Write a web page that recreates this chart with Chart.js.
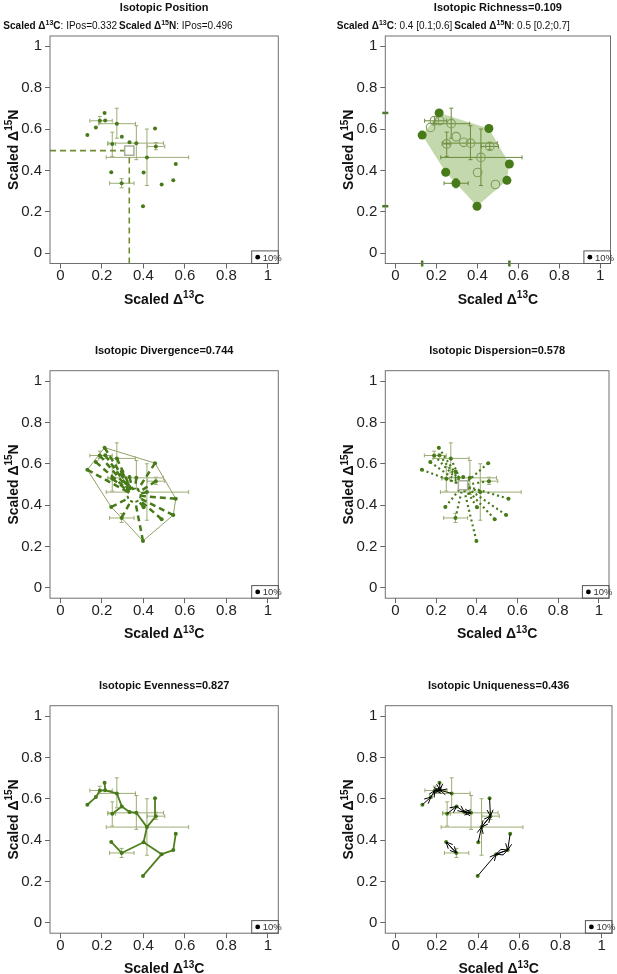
<!DOCTYPE html>
<html>
<head>
<meta charset="utf-8">
<script src="https://cdn.jsdelivr.net/npm/chart.js@4.4.1/dist/chart.umd.min.js"></script>
<style>
    body { margin: 0; background: #fff; width: 617px; height: 974px; overflow: hidden; position: relative; }
    canvas { position: absolute; }
</style>
</head>
<body>
<canvas id="p1"></canvas>
<canvas id="p2"></canvas>
<canvas id="p3"></canvas>
<canvas id="p4"></canvas>
<canvas id="p5"></canvas>
<canvas id="p6"></canvas>
<script>
// Valores escalados de cada punto (Δ13C, Δ15N)
const ptX = [0.130, 0.213, 0.456, 0.556, 0.544, 0.398, 0.295, 0.245, 0.171, 0.190,
             0.216, 0.272, 0.296, 0.333, 0.366, 0.250, 0.460, 0.417, 0.401, 0.488];
const ptY = [0.571, 0.678, 0.603, 0.431, 0.352, 0.227, 0.338, 0.391, 0.608, 0.640,
             0.641, 0.626, 0.563, 0.536, 0.532, 0.528, 0.516, 0.463, 0.390, 0.332];

// Vértices del polígono convexo (en orden)
const hullIdx = [0, 1, 2, 3, 4, 5, 6, 7];
const innerIdx = [8, 9, 10, 11, 12, 13, 14, 15, 16, 17, 18, 19];

// Barras de error
const errIdx = [9, 11, 15, 14, 16, 17, 6];
const errXlo = [0.142, 0.185, 0.228, 0.229, 0.419, 0.221, 0.237];
const errXhi = [0.250, 0.362, 0.266, 0.497, 0.503, 0.618, 0.355];
const errYlo = [0.626, 0.556, 0.468, 0.452, 0.500, 0.327, 0.316];
const errYhi = [0.661, 0.701, 0.585, 0.616, 0.535, 0.600, 0.360];

// Centro (IPos) y centro de gravedad del polígono
const posX = 0.332, posY = 0.496;
const gravX = 0.355, gravY = 0.447;

// Árbol de expansión mínima (Evenness)
const mstFrom = [0, 8, 9, 10, 10, 11, 12, 12, 13, 14, 17, 16, 17, 18, 18, 6, 19, 4, 19];
const mstTo   = [8, 9, 10, 1, 11, 12, 15, 13, 14, 17, 16, 2, 18, 19, 6, 7, 4, 3, 5];

// Vecino más cercano (Uniqueness)
const nnIdx = [8, 10, 16, 4, 19, 19, 7, 6, 9, 10, 9, 10, 13, 14, 13, 12, 17, 16, 17, 4];

const tickVals = [0, 0.2, 0.4, 0.6, 0.8, 1];
const AX_MIN = -0.05, AX_MAX = 1.05;

const titles = ['Isotopic Position', 'Isotopic Richness=0.109', 'Isotopic Divergence=0.744',
                'Isotopic Dispersion=0.578', 'Isotopic Evenness=0.827', 'Isotopic Uniqueness=0.436'];

const FAM = "'Liberation Sans', Arial, Helvetica, sans-serif";
Chart.defaults.font.family = FAM;

const DARK = '#477a19';
const FILLC = '#c3d8ad';
const BARC = '#9cad74';
const BARC2 = '#6b8a3a';
const OPENC = '#7f9c58';
const LINEC = '#6e8d2e';

const xLab = [{ t: 'Scaled Δ', b: 1 }, { t: '13', b: 1, sup: 1 }, { t: 'C', b: 1 }];
const yLab = [{ t: 'Scaled Δ', b: 1 }, { t: '15', b: 1, sup: 1 }, { t: 'N', b: 1 }];

const COLS = [{ left: 0, w: 308, pl: 50 }, { left: 308, w: 309, pl: 77.3 }];
const ROWS = [{ top: 0, h: 322, pt: 36, tOff: 28 },
              { top: 325, h: 325, pt: 45.7, tOff: 20 },
              { top: 650, h: 324, pt: 55.7, tOff: 20 }];
const PW = 228.3, PH = 227.5;

function fontFor(s, size) {
    const sz = s.sup ? Math.round(size * 0.7) : size;
    return (s.b ? 'bold ' : '') + sz + 'px ' + FAM;
}

// Texto con superíndices
function drawRich(ctx, segs, x, y, size, align) {
    let w = 0;
    segs.forEach(s => { ctx.font = fontFor(s, size); w += ctx.measureText(s.t).width; });
    let cx = align === 'center' ? x - w / 2 : (align === 'right' ? x - w : x);
    ctx.textAlign = 'left';
    ctx.textBaseline = 'alphabetic';
    const base = y + size * 0.36;
    segs.forEach(s => {
        ctx.font = fontFor(s, size);
        ctx.fillText(s.t, cx, s.sup ? base - size * 0.4 : base);
        cx += ctx.measureText(s.t).width;
    });
}

const decoPlugin = {
    id: 'deco',
    beforeDatasetDraw(chart, args) {
        const ds = chart.data.datasets[args.index];
        if (ds.dashPoint) chart.ctx.setLineDash(ds.dashPoint);
    },
    afterDatasetDraw(chart, args) {
        const ds = chart.data.datasets[args.index];
        if (ds.dashPoint) chart.ctx.setLineDash([]);
    },
    afterDatasetsDraw(chart, args, o) {
        if (!o.arrows) return;
        const ctx = chart.ctx, sx = chart.scales.x, sy = chart.scales.y;
        ctx.save();
        ctx.strokeStyle = '#000';
        ctx.lineWidth = 1;
        ptX.forEach((v, i) => {
            const j = nnIdx[i];
            const x0 = sx.getPixelForValue(v), y0 = sy.getPixelForValue(ptY[i]);
            const x1 = sx.getPixelForValue(ptX[j]), y1 = sy.getPixelForValue(ptY[j]);
            const ang = Math.atan2(y1 - y0, x1 - x0);
            ctx.beginPath();
            ctx.moveTo(x1 - 7 * Math.cos(ang - 0.45), y1 - 7 * Math.sin(ang - 0.45));
            ctx.lineTo(x1, y1);
            ctx.lineTo(x1 - 7 * Math.cos(ang + 0.45), y1 - 7 * Math.sin(ang + 0.45));
            ctx.stroke();
        });
        ctx.restore();
    },
    afterDraw(chart, args, o) {
        const ctx = chart.ctx, a = chart.chartArea;
        const cx = (a.left + a.right) / 2, cy = (a.top + a.bottom) / 2;
        ctx.save();
        // marco
        ctx.strokeStyle = '#707070';
        ctx.lineWidth = 1;
        ctx.strokeRect(a.left, a.top, a.right - a.left, a.bottom - a.top);
        // leyenda 10%
        ctx.strokeStyle = '#555';
        ctx.strokeRect(a.right - 26.6, a.bottom - 12.6, 26.6, 12.6);
        ctx.fillStyle = '#000';
        ctx.beginPath();
        ctx.arc(a.right - 20.6, a.bottom - 6.3, 2.4, 0, Math.PI * 2);
        ctx.fill();
        ctx.fillStyle = '#333';
        ctx.font = '9.5px ' + FAM;
        ctx.textAlign = 'left';
        ctx.textBaseline = 'middle';
        ctx.fillText('10%', a.right - 15.5, a.bottom - 5.5);
        // títulos
        ctx.fillStyle = '#111';
        ctx.font = 'bold 11px ' + FAM;
        ctx.textAlign = 'center';
        ctx.textBaseline = 'middle';
        ctx.fillText(o.title, cx, a.top - o.tOff);
        if (o.subL) {
            drawRich(ctx, o.subL, a.left + 67, a.top - 11, 10, 'right');
            drawRich(ctx, o.subR, a.left + 69, a.top - 11, 10, 'left');
        }
        // títulos de ejes
        ctx.fillStyle = '#111';
        drawRich(ctx, xLab, cx, a.bottom + 35, 14, 'center');
        ctx.translate(a.left - 37, cy);
        ctx.rotate(-Math.PI / 2);
        drawRich(ctx, yLab, 0, 0, 14, 'center');
        ctx.restore();
    }
};

function axisOpts(afterFit, pad, lh) {
    return {
        type: 'linear',
        min: AX_MIN,
        max: AX_MAX,
        afterBuildTicks: s => { s.ticks = tickVals.map(v => ({ value: v })); },
        afterFit: afterFit,
        ticks: { font: { size: 15, lineHeight: lh }, color: '#222', padding: pad, autoSkip: false, maxRotation: 0,
                 callback: v => String(v) },
        grid: { drawOnChartArea: false, tickLength: 5, color: '#666', lineWidth: 1 },
        border: { display: false }
    };
}

function pointsDs(idxs, extra) {
    return Object.assign({
        data: idxs.map(i => ({ x: ptX[i], y: ptY[i] })),
        showLine: false,
        pointRadius: 2,
        pointBackgroundColor: DARK,
        pointBorderColor: DARK,
        pointBorderWidth: 0,
        order: 1
    }, extra || {});
}

function segDs(p0, p1, extra) {
    return Object.assign({
        data: [p0, p1],
        showLine: true,
        pointRadius: 0,
        borderColor: DARK,
        borderWidth: 1,
        order: 3
    }, extra || {});
}

function errDs(color) {
    const out = [];
    errIdx.forEach((i, k) => {
        out.push(segDs({ x: errXlo[k], y: ptY[i] }, { x: errXhi[k], y: ptY[i] }, {
            borderColor: color, pointStyle: 'line', pointRotation: 90, pointRadius: 2,
            pointBorderColor: color, pointBorderWidth: 1, order: 5
        }));
        out.push(segDs({ x: ptX[i], y: errYlo[k] }, { x: ptX[i], y: errYhi[k] }, {
            borderColor: color, pointStyle: 'line', pointRotation: 0, pointRadius: 2,
            pointBorderColor: color, pointBorderWidth: 1, order: 5
        }));
    });
    return out;
}

function spokes(cx, cy, extra) {
    return ptX.map((v, i) => segDs({ x: v, y: ptY[i] }, { x: cx, y: cy }, extra));
}

function hullData() {
    const d = hullIdx.map(i => ({ x: ptX[i], y: ptY[i] }));
    d.push(d[0]);
    return d;
}

const allIdx = ptX.map((v, i) => i);

function squareDs() {
    return {
        data: [{ x: posX, y: posY }],
        pointStyle: 'rect', pointRadius: 6.5,
        pointBackgroundColor: '#fff', pointBorderColor: '#a9ad9c', pointBorderWidth: 1.5,
        order: 2
    };
}

function makePanel(n, col, row, deco, datasets) {
    const c = COLS[col], r = ROWS[row];
    const cv = document.getElementById('p' + n);
    cv.width = c.w;
    cv.height = r.h;
    cv.style.left = c.left + 'px';
    cv.style.top = r.top + 'px';
    new Chart(cv, {
        type: 'scatter',
        data: { datasets: datasets },
        options: {
            responsive: false,
            animation: false,
            events: [],
            layout: { padding: { left: 0, top: r.pt, right: c.w - c.pl - PW, bottom: 0 } },
            plugins: {
                legend: { display: false },
                tooltip: { enabled: false },
                deco: Object.assign({ title: titles[n - 1], tOff: r.tOff }, deco)
            },
            scales: {
                x: axisOpts(s => { s.height = r.h - r.pt - PH; }, 0, 1),
                y: axisOpts(s => { s.width = c.pl; }, 3, 1.2)
            }
        },
        plugins: [decoPlugin]
    });
}

// 1. Posición
makePanel(1, 0, 0, {
    subL: [{ t: 'Scaled Δ', b: 1 }, { t: '13', b: 1, sup: 1 }, { t: 'C', b: 1 }, { t: ': IPos=0.332' }],
    subR: [{ t: 'Scaled Δ', b: 1 }, { t: '15', b: 1, sup: 1 }, { t: 'N', b: 1 }, { t: ': IPos=0.496' }]
}, [
    pointsDs(allIdx),
    squareDs(),
    segDs({ x: AX_MIN, y: posY }, { x: posX, y: posY }, { borderColor: LINEC, borderWidth: 1.6, borderDash: [6, 4], order: 4 }),
    segDs({ x: posX, y: AX_MIN }, { x: posX, y: posY }, { borderColor: LINEC, borderWidth: 1.6, borderDash: [6, 4], order: 4 }),
    ...errDs(BARC)
]);

// 2. Riqueza
const minX = Math.min(...ptX), maxX = Math.max(...ptX);
const minY = Math.min(...ptY), maxY = Math.max(...ptY);
makePanel(2, 1, 0, {
    subL: [{ t: 'Scaled Δ', b: 1 }, { t: '13', b: 1, sup: 1 }, { t: 'C', b: 1 }, { t: ': 0.4 [0.1;0.6]' }],
    subR: [{ t: 'Scaled Δ', b: 1 }, { t: '15', b: 1, sup: 1 }, { t: 'N', b: 1 }, { t: ': 0.5 [0.2;0.7]' }]
}, [
    { data: hullData(), showLine: true, fill: 'shape', backgroundColor: FILLC,
      borderColor: 'rgba(0,0,0,0)', borderWidth: 0, pointRadius: 0, order: 10 },
    ...errDs(BARC2),
    pointsDs(hullIdx, { pointRadius: 4.5 }),
    pointsDs(innerIdx, { pointRadius: 4.3, pointBackgroundColor: 'rgba(0,0,0,0)',
                         pointBorderColor: OPENC, pointBorderWidth: 1.1 }),
    { data: [{ x: AX_MIN, y: minY }, { x: AX_MIN, y: maxY }], pointStyle: 'line', pointRadius: 3,
      pointBorderColor: DARK, pointBorderWidth: 2.5, clip: false, order: 0 },
    { data: [{ x: minX, y: AX_MIN }, { x: maxX, y: AX_MIN }], pointStyle: 'line', pointRotation: 90,
      pointRadius: 3, pointBorderColor: DARK, pointBorderWidth: 2.5, clip: false, order: 0 }
]);

// 3. Divergencia
makePanel(3, 0, 1, {}, [
    { data: hullData(), showLine: true, borderColor: '#929f68', borderWidth: 1, pointRadius: 0, order: 6 },
    ...errDs(BARC),
    ...spokes(gravX, gravY, { borderDash: [6, 4], borderWidth: 2.5, borderColor: DARK }),
    { data: [{ x: gravX, y: gravY }], pointRadius: 6.5, pointBackgroundColor: '#fff',
      pointBorderColor: DARK, pointBorderWidth: 2, dashPoint: [3, 2.5], order: 2 },
    pointsDs(allIdx)
]);

// 4. Dispersión
makePanel(4, 1, 1, {}, [
    ...errDs(BARC),
    ...spokes(posX, posY, { borderDash: [2, 3], borderWidth: 2.2, borderColor: DARK }),
    squareDs(),
    pointsDs(allIdx)
]);

// 5. Equitatividad
makePanel(5, 0, 2, {}, [
    ...errDs(BARC),
    ...mstFrom.map((f, k) => segDs({ x: ptX[f], y: ptY[f] }, { x: ptX[mstTo[k]], y: ptY[mstTo[k]] },
        { borderColor: '#4f7f1f', borderWidth: 1.8 })),
    pointsDs(allIdx)
]);

// 6. Unicidad
makePanel(6, 1, 2, { arrows: true }, [
    ...errDs(BARC),
    ...ptX.map((v, i) => segDs({ x: v, y: ptY[i] }, { x: ptX[nnIdx[i]], y: ptY[nnIdx[i]] },
        { borderColor: '#000', borderWidth: 1, order: 0 })),
    pointsDs(allIdx)
]);
</script>
</body>
</html>
